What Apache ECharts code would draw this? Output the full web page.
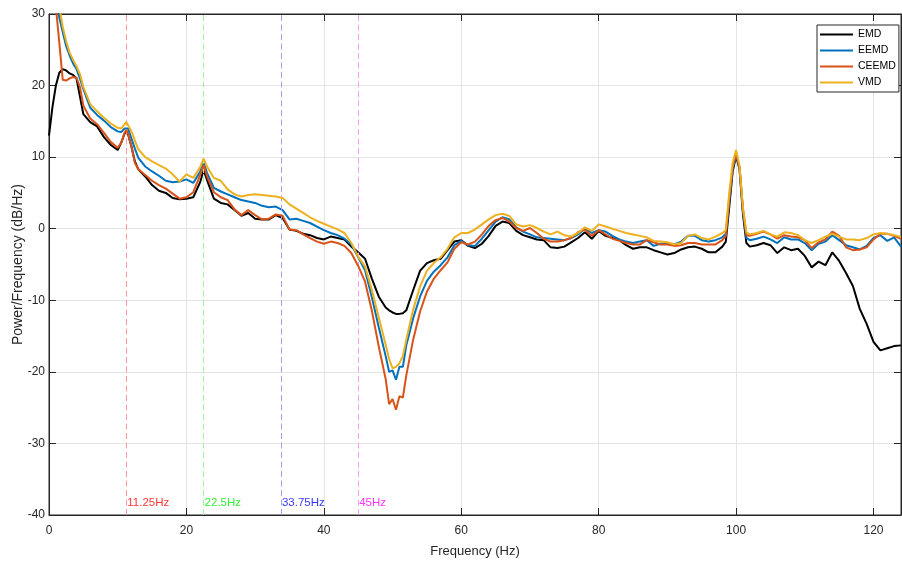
<!DOCTYPE html>
<html>
<head>
<meta charset="utf-8">
<script src="https://cdn.jsdelivr.net/npm/echarts@6/dist/echarts.min.js"></script>
<style>
html,body{margin:0;padding:0;background:#fff;}
#chart{width:902px;height:562px;}
</style>
</head>
<body>
<div id="chart"></div>
<script>
var freq = [0,0.5,1,1.5,2,2.5,3,3.5,4,4.5,5,
  6,7,8,9,10,
  10.5,11,11.25,11.5,12,12.5,13,
  14,15,16,17,18,19,20,21,22,
  22.5,23,
  24,25,26,27,28,29,30,31,32,33,34,35,36,37,38,39,40,41,42,43,44,45,46,47,48,49,
  49.5,50,50.5,51,51.5,52,
  53,54,55,56,57,58,59,60,61,62,63,64,65,66,67,68,69,70,71,72,73,74,75,76,77,78,79,80,81,82,83,84,85,86,87,88,89,90,91,92,93,94,95,96,97,98,
  98.5,99,99.5,100,100.5,101,101.5,102,
  103,104,105,106,107,108,109,110,111,112,113,114,115,116,117,118,119,120,121,122,123,124];

var emd = [13.0,17.0,20.0,21.8,22.3,22.1,21.7,21.5,21.0,18.5,16.0,
  14.9,14.3,12.8,11.7,11.0,
  12.0,13.3,13.6,13.2,11.5,9.4,8.3,
  7.3,6.1,5.3,5.0,4.3,4.1,4.2,4.4,6.5,
  8.2,6.8,
  4.2,3.6,3.4,2.6,1.8,2.2,1.4,1.3,1.3,1.9,1.5,-0.1,-0.3,-0.7,-0.9,-1.3,-1.5,-1.1,-1.3,-1.5,-2.5,-3.3,-4.2,-7.0,-9.5,-11.0,
  -11.4,-11.7,-11.9,-11.9,-11.8,-11.4,
  -8.6,-5.9,-4.8,-4.4,-4.2,-3.0,-1.8,-1.6,-2.4,-2.7,-2.1,-1.0,0.4,1.0,0.8,-0.3,-0.9,-1.2,-1.5,-1.6,-2.6,-2.7,-2.5,-1.9,-1.3,-0.5,-1.4,-0.3,-1.0,-1.3,-1.6,-2.3,-2.8,-2.6,-2.6,-3.0,-3.3,-3.6,-3.4,-2.9,-2.6,-2.5,-2.8,-3.3,-3.3,-2.5,
  -1.8,3.0,8.0,10.2,8.3,2.0,-2.0,-2.5,
  -2.3,-2.0,-2.3,-3.4,-2.6,-3.0,-2.8,-3.8,-5.4,-4.6,-5.1,-3.3,-4.5,-6.2,-8.0,-11.2,-13.3,-15.8,-17.0,-16.7,-16.4,-16.3];

var eemd = [45,40,33,29.5,27.5,25.5,24.2,23.1,22.3,21.0,19.5,
  16.9,15.9,15.1,14.2,13.6,
  13.5,14.0,14.2,14.0,12.6,11.2,9.9,
  8.7,8.0,7.4,6.7,6.5,6.6,6.9,6.4,8.0,
  9.2,7.8,
  5.7,5.2,4.8,4.4,4.0,3.8,3.6,3.2,3.0,3.1,2.6,1.3,1.4,1.1,0.8,0.3,-0.2,-0.6,-0.9,-1.4,-2.2,-4.0,-5.8,-9.6,-13.8,-17.8,
  -20.0,-19.8,-21.1,-19.3,-19.3,-16.3,
  -12.5,-9.5,-7.3,-6.0,-5.1,-4.0,-2.3,-1.7,-2.3,-2.4,-1.4,-0.2,1.0,1.6,1.3,0.2,-0.4,-0.8,-1.2,-1.3,-1.4,-1.5,-1.6,-1.3,-0.8,0.0,-0.6,-0.2,-0.4,-1.0,-1.5,-1.8,-2.0,-1.8,-1.6,-2.4,-2.1,-2.1,-2.2,-1.8,-1.0,-1.0,-1.6,-1.8,-1.6,-1.2,
  -0.7,3.8,8.3,10.3,8.5,2.5,-1.3,-1.6,
  -1.4,-1.1,-1.5,-2.0,-1.2,-1.5,-1.5,-2.0,-3.0,-2.1,-1.8,-0.9,-1.6,-2.3,-2.6,-2.9,-2.4,-1.3,-0.9,-1.7,-1.2,-2.5];

var ceemd = [45,38,31,26.0,20.8,20.7,21.0,21.2,21.1,19.8,17.2,
  15.4,14.6,13.4,12.1,11.3,
  12.0,13.4,13.8,13.3,11.5,9.2,8.3,
  7.5,6.7,6.1,5.6,4.9,4.2,4.4,5.1,7.5,
  8.9,7.3,
  5.1,4.4,4.0,2.7,1.9,2.6,1.9,1.3,1.4,2.0,1.8,-0.1,-0.2,-0.8,-1.3,-1.8,-2.1,-1.8,-2.0,-2.4,-3.4,-5.2,-7.4,-11.5,-16.5,-21.0,
  -24.5,-23.8,-25.3,-23.4,-23.6,-20.5,
  -15.5,-11.6,-8.8,-7.0,-5.8,-4.7,-2.8,-1.9,-2.2,-1.8,-0.8,0.4,1.2,1.5,1.0,0.1,-0.3,0.1,-0.6,-1.4,-1.8,-1.8,-1.6,-1.3,-0.5,-0.1,-1.0,-0.2,-0.8,-1.4,-1.7,-2.0,-2.2,-2.2,-1.6,-1.9,-2.2,-2.2,-2.4,-2.3,-2.0,-2.0,-2.2,-2.2,-2.2,-1.6,
  -1.0,4.2,8.6,10.5,8.6,2.7,-0.9,-1.0,
  -0.7,-0.4,-0.8,-1.4,-0.9,-1.1,-1.2,-1.6,-2.7,-1.9,-1.5,-0.4,-1.0,-2.6,-3.0,-2.9,-2.6,-1.5,-0.7,-0.7,-1.0,-1.4];

var vmd = [45,42,36,31,28.2,26.2,24.6,23.6,22.7,21.6,19.8,
  17.4,16.4,15.5,14.7,14.1,
  14.0,14.6,14.9,14.7,13.6,12.3,11.1,
  10.0,9.4,8.9,8.4,7.6,6.6,7.6,7.1,8.6,
  9.8,8.7,
  7.1,6.7,5.5,4.8,4.5,4.7,4.8,4.7,4.6,4.5,4.3,3.4,2.8,2.2,1.6,1.1,0.7,0.3,-0.1,-0.6,-2.0,-3.9,-5.3,-8.6,-12.4,-16.2,
  -18.2,-19.5,-19.3,-18.8,-17.8,-15.5,
  -11.3,-8.1,-5.9,-4.8,-4.0,-2.8,-1.2,-0.6,-0.6,-0.1,0.6,1.3,1.9,2.1,1.8,0.6,0.3,0.5,0.1,-0.4,-0.8,-0.4,-0.9,-1.1,-0.6,0.2,-0.3,0.6,0.3,0.0,-0.3,-0.6,-0.8,-1.0,-1.2,-1.7,-1.8,-1.9,-2.2,-2.0,-1.0,-0.8,-1.3,-1.5,-1.1,-0.6,
  -0.2,5.0,9.2,11.0,8.8,3.0,-0.5,-0.8,
  -0.6,-0.3,-0.8,-1.1,-0.5,-0.6,-0.9,-1.6,-2.0,-1.6,-1.1,-0.7,-1.1,-1.5,-1.5,-1.6,-1.3,-0.8,-0.6,-0.7,-0.9,-1.15];

var seriesNames = ['EMD','EEMD','CEEMD','VMD'];
var markFreqs = [11.25, 22.5, 33.75, 45];
var markTexts = ['11.25Hz','22.5Hz','33.75Hz','45Hz'];
var markLabelLevel = -38.3;
var xTicks = [0, 20, 40, 60, 80, 100, 120];
var yTicks = [-40, -30, -20, -10, 0, 10, 20, 30];

var seriesColors = ['#000000','#0072BD','#D95319','#EDB120'];
var markLineColors = ['#ff9a9a','#a5eea5','#a0a0f0','#ff9cff'];
var markTextColors = ['#ff0000','#00ee00','#0000ff','#ff00ff'];
var FONT = 'Liberation Sans, Arial, Helvetica, sans-serif';
var AX = '#262626';

function pairs(vals){ return freq.map(function(f,i){ return [f, vals[i]]; }); }
var allVals = [emd, eemd, ceemd, vmd];

var series = allVals.map(function(v, k){
  return {
    name: seriesNames[k], type: 'line', data: pairs(v),
    showSymbol: false, symbol: 'none', clip: true,
    lineStyle: {width: 2, color: seriesColors[k]},
    itemStyle: {color: seriesColors[k]},
    z: 3 + k
  };
});
markFreqs.forEach(function(f, i){
  series.push({
    name: 'vline' + i, type: 'line', data: [], silent: true,
    markLine: {
      silent: true, symbol: ['none','none'], animation: false,
      label: {show: false},
      lineStyle: {color: markLineColors[i], type: [6,3.5], width: 1, opacity: 1},
      data: [{xAxis: f}]
    }
  });
});
series.push({
  name: 'marks', type: 'scatter', symbolSize: 0, silent: true,
  data: markFreqs.map(function(f, i){
    return {value: [f, markLabelLevel],
      label: {show: true, position: 'right', distance: 1, formatter: markTexts[i],
        color: markTextColors[i], fontSize: 11.5, fontFamily: FONT}};
  })
});

var option = {
  animation: false,
  backgroundColor: '#ffffff',
  grid: {left: 49, right: 1, top: 14, bottom: 47, show: true, borderColor: AX, borderWidth: 1,
    backgroundColor: '#fff', containLabel: false, outerBoundsMode: 'none'},
  legend: {
    data: seriesNames, orient: 'vertical', left: 817, top: 25,
    icon: 'rect', itemWidth: 33, itemHeight: 2, itemGap: 5,
    padding: [4, 3, 4, 3],
    backgroundColor: '#fff', borderColor: AX, borderWidth: 1,
    textStyle: {fontSize: 10.5, color: '#000', fontFamily: FONT}
  },
  xAxis: [{
    type: 'value', min: 0, max: 124, interval: 20,
    name: 'Frequency (Hz)', nameLocation: 'middle', nameGap: 30, nameMoveOverlap: false,
    nameTextStyle: {fontSize: 13, color: AX, fontFamily: FONT},
    axisLine: {show: true, onZero: false, lineStyle: {color: AX, width: 1}},
    axisTick: {show: true, inside: true, length: 7, lineStyle: {color: AX}},
    axisLabel: {fontSize: 12, color: AX, fontFamily: FONT, margin: 10, showMaxLabel: false,
      formatter: function(v){ return xTicks.indexOf(v) >= 0 ? String(v) : ''; }},
    splitLine: {show: true, lineStyle: {color: '#e4e4e4', width: 1}}
  }, {
    type: 'value', position: 'top', min: 0, max: 124, interval: 20,
    axisLine: {show: true, onZero: false, lineStyle: {color: AX}},
    axisTick: {show: true, inside: true, length: 7, lineStyle: {color: AX}},
    axisLabel: {show: false}, splitLine: {show: false}
  }],
  yAxis: [{
    type: 'value', min: -40, max: 30, interval: 10,
    name: 'Power/Frequency (dB/Hz)', nameLocation: 'middle', nameGap: 24, nameMoveOverlap: false,
    nameTextStyle: {fontSize: 14, color: AX, fontFamily: FONT},
    axisLine: {show: true, onZero: false, lineStyle: {color: AX, width: 1}},
    axisTick: {show: true, inside: true, length: 7, lineStyle: {color: AX}},
    axisLabel: {fontSize: 12, color: AX, fontFamily: FONT, margin: 4,
      formatter: function(v){ return yTicks.indexOf(v) >= 0 ? String(v) : ''; }},
    splitLine: {show: true, lineStyle: {color: '#e4e4e4', width: 1}}
  }, {
    type: 'value', position: 'right', min: -40, max: 30, interval: 10,
    axisLine: {show: true, onZero: false, lineStyle: {color: AX}},
    axisTick: {show: true, inside: true, length: 7, lineStyle: {color: AX}},
    axisLabel: {show: false}, splitLine: {show: false}
  }],
  series: series
};

var chart = echarts.init(document.getElementById('chart'), null, {renderer: 'canvas'});
chart.setOption(option);
</script>
</body>
</html>
